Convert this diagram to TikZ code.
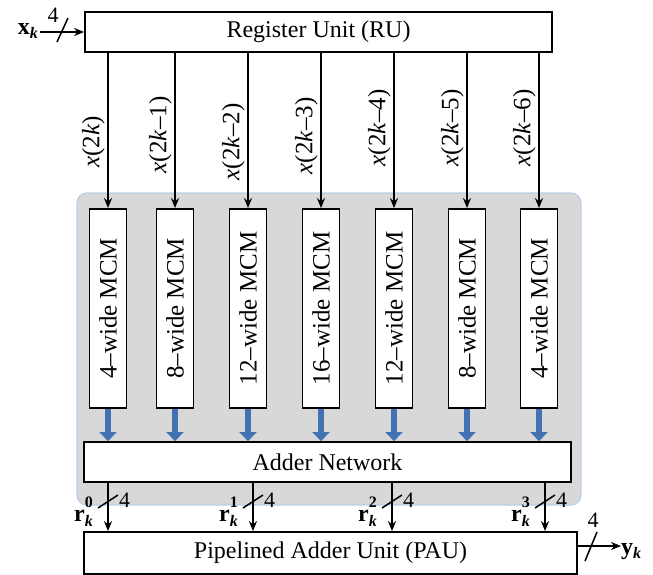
\documentclass[tikz,border=0pt]{standalone}
\usepackage{fontspec}
\setmainfont{Liberation Serif}
\usetikzlibrary{arrows.meta,positioning}
\definecolor{panelgray}{RGB}{216,216,216}
\definecolor{panelblue}{RGB}{186,206,232}
\definecolor{mcmblue}{RGB}{66,114,178}
\newcommand{\subsz}{\fontsize{16}{16}\selectfont}
\newcommand{\xin}[1]{\textit{x}(2\textit{k}#1)}
\newcommand{\rout}[1]{\textbf{r}\rlap{\raisebox{-0.5ex}{\subsz\bfseries\itshape k}}\raisebox{1.2ex}{\subsz\bfseries #1}}
\newcommand{\busk}[1]{\textbf{#1}\raisebox{-0.45ex}{\subsz\bfseries\itshape k}}

\begin{document}
\begin{tikzpicture}[
  x=1pt, y=-1pt,
  >=Stealth,
  every node/.style={font=\fontsize{24}{28}\selectfont, inner sep=0pt},
  unit/.style={draw, line width=1.8pt, fill=white, minimum height=40pt},
  mcm/.style={draw, line width=1.8pt, fill=white, minimum width=37pt,
              minimum height=199pt, font=\fontsize{25}{28}\selectfont},
  wire/.style={line width=1.8pt, -{Stealth[length=10pt,width=8pt]}},
  mcmout/.style={mcmblue, line width=6pt, -{Triangle[length=9pt,width=17pt]}},
  busmark/.style={line width=1.5pt},
  wlabel/.style={font=\fontsize{22}{22}\selectfont}
]
\useasboundingbox (0,0) rectangle (653,574);
%% gray panel behind the MCM blocks
\draw[panelblue, fill=panelgray, line width=1.2pt, rounded corners=10pt]
  (77,193) rectangle (581,505);
%% register unit
\node[unit, minimum width=467pt] (ru) at (318.5,32) {Register Unit (RU)};
%% input
\node[anchor=base east] (xk) at (38,34) {\busk{x}};
\draw[wire, shorten <=2pt] (ru.west -| xk.east) -- (ru.west);
\draw[busmark] (57,42) -- (68,18);
\node[wlabel] at (53,15) {4};
%% adder network and PAU
\node[unit, minimum width=487pt] (adder) at (327.5,462) {Adder Network};
\node[unit, minimum width=493pt, minimum height=42pt] (pau) at (330.5,553)
  {Pipelined Adder Unit (PAU)};
%% MCM blocks
\foreach \i/\x/\w/\ly/\lab in {1/108/4/142/, 2/175/8/135/–1, 3/248/12/142/–2,
    4/321/16/136/–3, 5/394/12/128/–4, 6/467/8/128/–5, 7/539/4/128/–6}{
  \node[mcm] (m\i) at (\x,308.5) {\rotatebox{90}{\w–wide MCM}};
  \draw[wire] (m\i.north |- ru.south) -- (m\i.north);
  \node[rotate=90, anchor=south, font=\fontsize{25}{28}\selectfont]
    at (\x-3,\ly) {\xin{\lab}};
  \draw[mcmout] (m\i.south) -- (m\i.south |- adder.north);
}
%% outputs of the adder network
\foreach \j/\x in {0/108, 1/253, 2/392, 3/545}{
  \coordinate (rs\j) at (\x,0);
  \draw[wire] (adder.south -| rs\j) -- (pau.north -| rs\j);
  \draw[busmark] (\x-10,508) -- (\x+10,495);
  \node[wlabel, anchor=west] at (\x+11,500) {4};
  \node[anchor=east] at (\x-15,512) {\rout{\j}};
}
%% output
\node[anchor=base west] (yk) at (621,554) {\busk{y}};
\draw[wire] ([yshift=7pt]pau.east) -- ([yshift=7pt]pau.east -| yk.west);
\draw[busmark] (585,561) -- (597,532);
\node[wlabel] at (593,520) {4};
\end{tikzpicture}
\end{document}
